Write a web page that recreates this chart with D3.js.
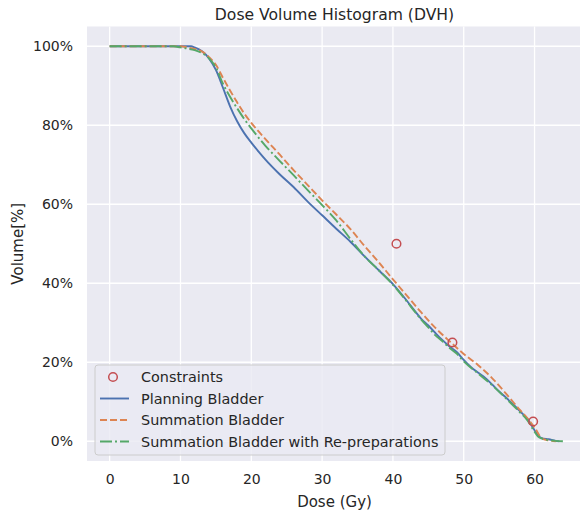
<!DOCTYPE html>
<html>
<head>
<meta charset="utf-8">
<script src="https://cdn.jsdelivr.net/npm/d3@7"></script>
<style>
  html, body { margin: 0; padding: 0; background: #fff; }
  svg { display: block; font-family: "DejaVu Sans", sans-serif; }
</style>
</head>
<body>
<svg id="chart" width="580" height="517"></svg>
<script>
/* ── DATA ───────────────────────────────────────── */
const planningDose   = [0, 5, 10, 11, 11.5, 12, 13, 14, 15, 16, 17, 18, 19, 20, 21, 22, 24, 26, 28, 30, 32, 34, 36, 38, 40, 42, 43, 44, 45, 46, 47, 48, 49, 50, 51, 52, 53, 54, 55, 56, 57, 58, 59, 60, 60.5, 61, 62, 63, 63.5];
const planningVolume = [100, 100, 100, 100, 100, 99.7, 98.8, 97, 94, 89.5, 84.8, 81, 78, 75.6, 73.4, 71.3, 67.6, 64.3, 60.6, 57.2, 53.8, 50.5, 46.8, 43.3, 39.8, 35.5, 33.2, 31, 29.3, 27.4, 25.6, 24, 22.6, 20.6, 18.8, 17.4, 16.1, 14.4, 12.6, 11, 9.3, 7.5, 5.6, 2.8, 1.5, 0.8, 0.5, 0.1, 0];

const summationDose   = [0, 5, 10, 11, 12, 13, 14, 15, 16, 17, 18, 19, 20, 22, 24, 26, 28, 30, 32, 34, 36, 38, 40, 42, 44, 46, 48, 50, 52, 54, 56, 58, 59, 60, 61, 62, 63];
const summationVolume = [100, 100, 100, 99.7, 99.3, 98.7, 97.3, 95.3, 92, 88.8, 85.8, 83, 80.6, 76.5, 72.6, 68.6, 64.8, 61, 57.4, 53.7, 49.4, 45.3, 41, 36.8, 32.6, 28.7, 25.3, 22.1, 19.3, 16, 12, 7.8, 5.8, 3.5, 0.8, 0.2, 0];

const repDose   = [0, 5, 9, 10, 11, 12, 13, 14, 15, 16, 17, 18, 19, 20, 22, 24, 26, 28, 30, 32, 34, 36, 38, 40, 42, 43, 44, 45, 46, 47, 48, 49, 50, 52, 54, 56, 58, 59, 60, 60.5, 61, 62, 63, 64];
const repVolume = [100, 100, 100, 99.7, 99.4, 99, 98.3, 97, 94.6, 90.5, 87.2, 84.3, 81.6, 79.2, 74.8, 71, 67.3, 63.5, 59.8, 55.9, 51.2, 46.8, 43.3, 39.6, 35.3, 33, 30.8, 28.8, 26.8, 25.3, 23.6, 22.2, 20.2, 17.2, 14.2, 10.8, 7.2, 5.3, 2.4, 1.2, 0.7, 0.3, 0.1, 0];

const constraintDose   = [40.5, 48.4, 59.8];
const constraintVolume = [50, 25, 5];

const xTicks = [0, 10, 20, 30, 40, 50, 60];
const yTicks = [0, 20, 40, 60, 80, 100];

const seriesNames = ['Planning Bladder', 'Summation Bladder', 'Summation Bladder with Re-preparations'];

/* ── LAYOUT ─────────────────────────────────────── */
const plot = { left: 87, top: 26.5, right: 582, bottom: 461 };
const svg  = d3.select('#chart');

const x = d3.scaleLinear().domain([-3.2, 66.7]).range([plot.left, plot.right]);
const y = d3.scaleLinear().domain([-5, 105]).range([plot.bottom, plot.top]);

const textColor = '#262626';

svg.append('rect')
  .attr('x', plot.left).attr('y', plot.top)
  .attr('width', plot.right - plot.left).attr('height', plot.bottom - plot.top)
  .attr('fill', '#EAEAF2');

// grid
svg.append('g').selectAll('line').data(xTicks).enter().append('line')
  .attr('x1', d => x(d)).attr('x2', d => x(d))
  .attr('y1', plot.top).attr('y2', plot.bottom)
  .attr('stroke', '#fff').attr('stroke-width', 1.3);
svg.append('g').selectAll('line').data(yTicks).enter().append('line')
  .attr('y1', d => y(d)).attr('y2', d => y(d))
  .attr('x1', plot.left).attr('x2', plot.right)
  .attr('stroke', '#fff').attr('stroke-width', 1.3);

// axes (labels only, seaborn darkgrid has no spines / tick marks)
const xAxis = svg.append('g').attr('transform', 'translate(0,' + plot.bottom + ')')
  .call(d3.axisBottom(x).tickValues(xTicks).tickSize(0).tickPadding(13));
const yAxis = svg.append('g').attr('transform', 'translate(' + plot.left + ',0)')
  .call(d3.axisLeft(y).tickValues(yTicks).tickSize(0).tickPadding(14).tickFormat(d => d + '%'));
[xAxis, yAxis].forEach(a => {
  a.select('.domain').remove();
  a.selectAll('text').attr('font-size', 14).attr('fill', textColor)
    .attr('font-family', '"DejaVu Sans", sans-serif');
});

/* ── LINES ──────────────────────────────────────── */
const line = d3.line().x(d => x(d[0])).y(d => y(d[1])).curve(d3.curveMonotoneX);
const series = [
  { dose: planningDose,  vol: planningVolume,  color: '#4C72B0', dash: null },
  { dose: summationDose, vol: summationVolume, color: '#DD8452', dash: '7,3' },
  { dose: repDose,       vol: repVolume,       color: '#55A868', dash: '12,3,2,3' }
];

svg.append('defs').append('clipPath').attr('id', 'clip')
  .append('rect').attr('x', plot.left).attr('y', plot.top)
  .attr('width', plot.right - plot.left).attr('height', plot.bottom - plot.top);

const lines = svg.append('g').attr('clip-path', 'url(#clip)');
series.forEach(s => {
  lines.append('path')
    .datum(d3.zip(s.dose, s.vol))
    .attr('d', line)
    .attr('fill', 'none')
    .attr('stroke', s.color)
    .attr('stroke-width', 1.9)
    .attr('stroke-dasharray', s.dash);
});

lines.selectAll('circle').data(d3.zip(constraintDose, constraintVolume)).enter().append('circle')
  .attr('cx', d => x(d[0])).attr('cy', d => y(d[1])).attr('r', 4.3)
  .attr('fill', 'none').attr('stroke', '#C44E52').attr('stroke-width', 1.5);

/* ── LEGEND ─────────────────────────────────────── */
const legend = svg.append('g').attr('transform', 'translate(95,365)');
legend.append('rect')
  .attr('width', 350).attr('height', 90).attr('rx', 3)
  .attr('fill', '#EAEAF2').attr('fill-opacity', 0.8)
  .attr('stroke', '#cccccc').attr('stroke-width', 1);

const rowY = i => 12 + i * 21.5;
legend.append('circle').attr('cx', 18).attr('cy', rowY(0)).attr('r', 4.3)
  .attr('fill', 'none').attr('stroke', '#C44E52').attr('stroke-width', 1.5);
legend.append('text').attr('x', 46).attr('y', rowY(0)).attr('dy', '0.35em')
  .attr('font-size', 14.4).attr('fill', textColor).text('Constraints');
series.forEach((s, i) => {
  legend.append('line')
    .attr('x1', 5).attr('x2', 34).attr('y1', rowY(i + 1)).attr('y2', rowY(i + 1))
    .attr('stroke', s.color).attr('stroke-width', 1.9).attr('stroke-dasharray', s.dash);
  legend.append('text').attr('x', 46).attr('y', rowY(i + 1)).attr('dy', '0.35em')
    .attr('font-size', 14.4).attr('fill', textColor).text(seriesNames[i]);
});

/* ── TITLES ─────────────────────────────────────── */
svg.append('text').attr('x', (plot.left + plot.right) / 2).attr('y', 20)
  .attr('text-anchor', 'middle').attr('font-size', 15.6).attr('fill', textColor)
  .text('Dose Volume Histogram (DVH)');
svg.append('text').attr('x', (plot.left + plot.right) / 2).attr('y', 507)
  .attr('text-anchor', 'middle').attr('font-size', 15).attr('fill', textColor)
  .text('Dose (Gy)');
svg.append('text')
  .attr('transform', 'translate(23,' + ((plot.top + plot.bottom) / 2) + ') rotate(-90)')
  .attr('text-anchor', 'middle').attr('font-size', 15).attr('fill', textColor)
  .text('Volume[%]');
</script>
</body>
</html>
